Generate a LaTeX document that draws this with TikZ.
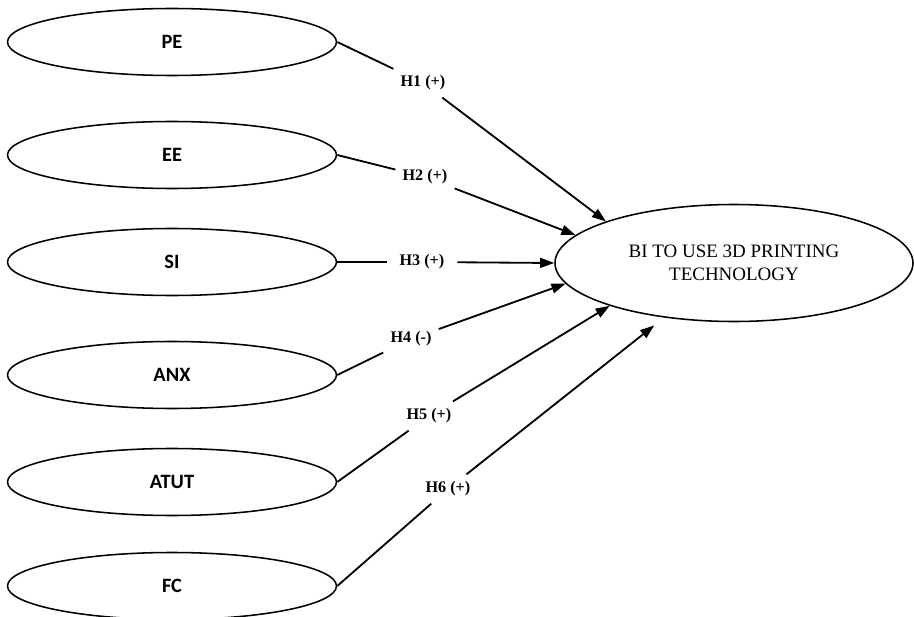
\documentclass[tikz,border=0pt]{standalone}
\usepackage{fontspec}
\setmainfont{Liberation Serif}
\newfontfamily\calfont{Carlito}
\usetikzlibrary{arrows.meta,shapes.geometric}

\begin{document}
\begin{tikzpicture}[
    line/.style={line width=1.3pt},
    arr/.style={line width=1.3pt,-{Triangle[length=10pt,width=7pt]}},
    factor/.style={draw,ellipse,line width=1.1pt,minimum width=8.225cm,minimum height=1.675cm,inner sep=0pt,font=\calfont\bfseries\fontsize{14.5}{16}\selectfont},
    target/.style={draw,ellipse,line width=1.1pt,minimum width=8.95cm,minimum height=2.925cm,inner sep=0pt,align=center,font=\fontsize{13.5}{16.4}\selectfont},
    hyp/.style={font=\bfseries\fontsize{11.5}{13}\selectfont,inner sep=5pt}
]
\useasboundingbox (0,0) rectangle (22.85,15.4);

\node[target] (bi) at (18.35,8.825) {BI TO USE 3D PRINTING\\TECHNOLOGY};

\foreach \n/\y/\txt in {pe/14.35/PE, ee/11.525/EE, si/8.85/SI, anx/6.025/ANX, atut/3.35/ATUT, fc/0.75/FC}
    \node[factor] (\n) at (4.3,\y) {\txt};

\node[hyp] (h1) at (10.575,13.325) {H1 (+)};
\node[hyp] (h2) at (10.625,10.975) {H2 (+)};
\node[hyp,inner xsep=9pt] (h3) at (10.55,8.85) {H3 (+)};
\node[hyp] (h4) at (10.275,6.925) {H4 (-)};
\node[hyp] (h5) at (10.725,5.0) {H5 (+)};
\node[hyp] (h6) at (11.2,3.175) {H6 (+)};

% paths from the factors through the hypotheses
\foreach \a/\h/\ang in {pe/h1/162, ee/h2/170, si/h3/180, anx/h4/187, atut/h5/199} {
    \draw[line] (\a.east) -- (\h);
    \draw[arr] (\h) -- (bi.\ang);
}
\draw[line] (fc.east) -- (h6);
\draw[arr,shorten >=9pt] (h6) -- (bi.218);

\end{tikzpicture}
\end{document}
